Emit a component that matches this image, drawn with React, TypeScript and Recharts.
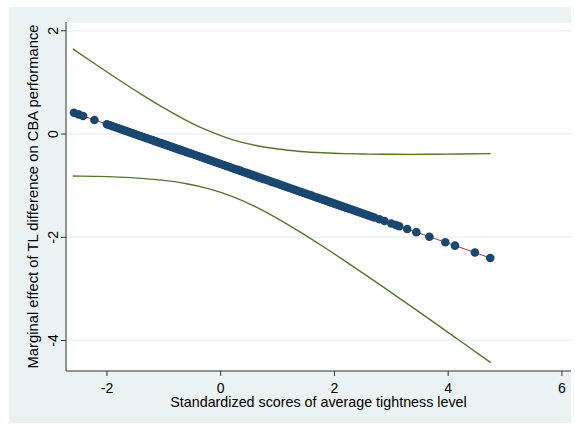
import React from "react";
import { ComposedChart, Line, Scatter, XAxis, YAxis, CartesianGrid } from "recharts";

// Confidence interval bounds
const CI_X = [-2.6, -2.2, -1.8, -1.4, -1.0, -0.6, -0.2, 0.2, 0.6, 1.0, 1.4, 1.8, 2.2, 2.6, 3.0, 3.4, 3.8, 4.2, 4.75];
const CI_UPPER = [1.65, 1.351, 1.057, 0.774, 0.506, 0.262, 0.055, -0.107, -0.218, -0.291, -0.337, -0.364, -0.38, -0.389, -0.393, -0.394, -0.391, -0.387, -0.379];
const CI_LOWER = [-0.814, -0.821, -0.835, -0.858, -0.898, -0.962, -1.061, -1.207, -1.402, -1.637, -1.899, -2.178, -2.47, -2.767, -3.071, -3.378, -3.687, -3.999, -4.429];

// Marginal effect points
const POINT_X = [
  -2.58, -2.5, -2.42, -2.22,
  -2.0, -1.95, -1.9, -1.85, -1.8, -1.75, -1.7, -1.65, -1.6, -1.55, -1.5, -1.45, -1.4, -1.35, -1.3, -1.25,
  -1.2, -1.15, -1.1, -1.05, -1.0, -0.95, -0.9, -0.85, -0.8, -0.75, -0.7, -0.65, -0.6, -0.55, -0.5, -0.45,
  -0.4, -0.35, -0.3, -0.25, -0.2, -0.15, -0.1, -0.05, 0.0, 0.05, 0.1, 0.15, 0.2, 0.25, 0.3, 0.35,
  0.4, 0.45, 0.5, 0.55, 0.6, 0.65, 0.7, 0.75, 0.8, 0.85, 0.9, 0.95, 1.0, 1.05, 1.1, 1.15, 1.2, 1.25,
  1.3, 1.35, 1.4, 1.45, 1.5, 1.55, 1.6, 1.65, 1.7, 1.75, 1.8, 1.85, 1.9, 1.95, 2.0, 2.05, 2.1, 2.15,
  2.2, 2.25, 2.3, 2.35, 2.4, 2.45, 2.5, 2.55, 2.6, 2.65, 2.7,
  2.79, 2.88, 3.0, 3.08, 3.14, 3.28, 3.44, 3.67, 3.95, 4.12, 4.47, 4.74,
];
const POINT_Y = [
  0.411, 0.38, 0.349, 0.272,
  0.188, 0.169, 0.15, 0.13, 0.111, 0.092, 0.073, 0.054, 0.034, 0.015, -0.004, -0.023, -0.042, -0.062, -0.081, -0.1,
  -0.119, -0.138, -0.158, -0.177, -0.196, -0.215, -0.234, -0.254, -0.273, -0.292, -0.311, -0.33, -0.35, -0.369, -0.388, -0.407,
  -0.426, -0.446, -0.465, -0.484, -0.503, -0.522, -0.542, -0.561, -0.58, -0.599, -0.618, -0.638, -0.657, -0.676, -0.695, -0.714,
  -0.734, -0.753, -0.772, -0.791, -0.81, -0.83, -0.849, -0.868, -0.887, -0.906, -0.926, -0.945, -0.964, -0.983, -1.002, -1.022, -1.041, -1.06,
  -1.079, -1.098, -1.118, -1.137, -1.156, -1.175, -1.194, -1.214, -1.233, -1.252, -1.271, -1.29, -1.31, -1.329, -1.348, -1.367, -1.386, -1.406,
  -1.425, -1.444, -1.463, -1.482, -1.502, -1.521, -1.54, -1.559, -1.578, -1.598, -1.617,
  -1.651, -1.686, -1.732, -1.763, -1.786, -1.84, -1.901, -1.989, -2.097, -2.162, -2.296, -2.4,
];

// Fitted line endpoints
const FIT_X = [-2.58, 4.74];
const FIT_Y = [0.411, -2.4];

const X_TICKS = [-2, 0, 2, 4, 6];
const Y_TICKS = [-4, -2, 0, 2];
const X_TITLE = "Standardized scores of average tightness level";
const Y_TITLE = "Marginal effect of TL difference on CBA performance";

const ciData = CI_X.map((x, i) => ({ x, upper: CI_UPPER[i], lower: CI_LOWER[i] }));
const pointData = POINT_X.map((x, i) => ({ x, y: POINT_Y[i] }));
const fitData = FIT_X.map((x, i) => ({ x, fit: FIT_Y[i] }));

const FONT = "'Liberation Sans', Arial, sans-serif";
const BG = "#eaf2f3";
const NAVY = "#1a476f";
const GREEN = "#55752f";
const RED = "#a8323c";

const YTick = (props: any) => {
  const { x, y, payload } = props;
  return (
    <text
      transform={`translate(${x - 8.5}, ${y}) rotate(-90)`}
      textAnchor="middle"
      dominantBaseline="central"
      fontSize={14}
      fontFamily={FONT}
      fill="#000"
    >
      {payload.value}
    </text>
  );
};

const YTitle = (props: any) => {
  const vb = props.viewBox;
  const cx = 24;
  const cy = vb.y + vb.height / 2;
  return (
    <text
      transform={`translate(${cx}, ${cy}) rotate(-90)`}
      textAnchor="middle"
      dominantBaseline="central"
      fontSize={14.8}
      fontFamily={FONT}
      fill="#000"
    >
      {Y_TITLE}
    </text>
  );
};

const XTitle = (props: any) => {
  const vb = props.viewBox;
  return (
    <text
      x={vb.x + vb.width / 2}
      y={vb.y + 30.5}
      textAnchor="middle"
      dominantBaseline="central"
      fontSize={14.3}
      fontFamily={FONT}
      fill="#000"
    >
      {X_TITLE}
    </text>
  );
};

const Dot = (props: any) => {
  const { cx, cy } = props;
  if (cx == null || cy == null) return null;
  return <circle cx={cx} cy={cy} r={4.3} fill={NAVY} />;
};

export default function App() {
  return (
    <div style={{ position: "absolute", left: 9, top: 7, width: 562, height: 416, background: BG }}>
      <ComposedChart width={562} height={416} margin={{ top: 15, right: 0, left: 0, bottom: 0 }}>
        <CartesianGrid vertical={false} fill="#ffffff" stroke={BG} strokeWidth={1.5} />
        <XAxis
          type="number"
          dataKey="x"
          domain={[-2.72, 6.16]}
          ticks={X_TICKS}
          allowDataOverflow
          height={52}
          tickSize={5}
          tickMargin={7}
          stroke="#333"
          tick={{ fontSize: 14, fill: "#000", fontFamily: FONT }}
          label={{ content: XTitle }}
        />
        <YAxis
          type="number"
          domain={[-4.59, 2.17]}
          ticks={Y_TICKS}
          allowDataOverflow
          width={57}
          tickSize={5}
          tickMargin={0}
          stroke="#333"
          tick={YTick}
          label={{ content: YTitle }}
        />
        <Line data={ciData} dataKey="upper" type="monotone" stroke={GREEN} strokeWidth={1.4} dot={false} isAnimationActive={false} />
        <Line data={ciData} dataKey="lower" type="monotone" stroke={GREEN} strokeWidth={1.4} dot={false} isAnimationActive={false} />
        <Scatter data={pointData} dataKey="y" shape={Dot} isAnimationActive={false} />
        <Line data={fitData} dataKey="fit" type="linear" stroke={RED} strokeWidth={1} dot={false} isAnimationActive={false} />
      </ComposedChart>
    </div>
  );
}
